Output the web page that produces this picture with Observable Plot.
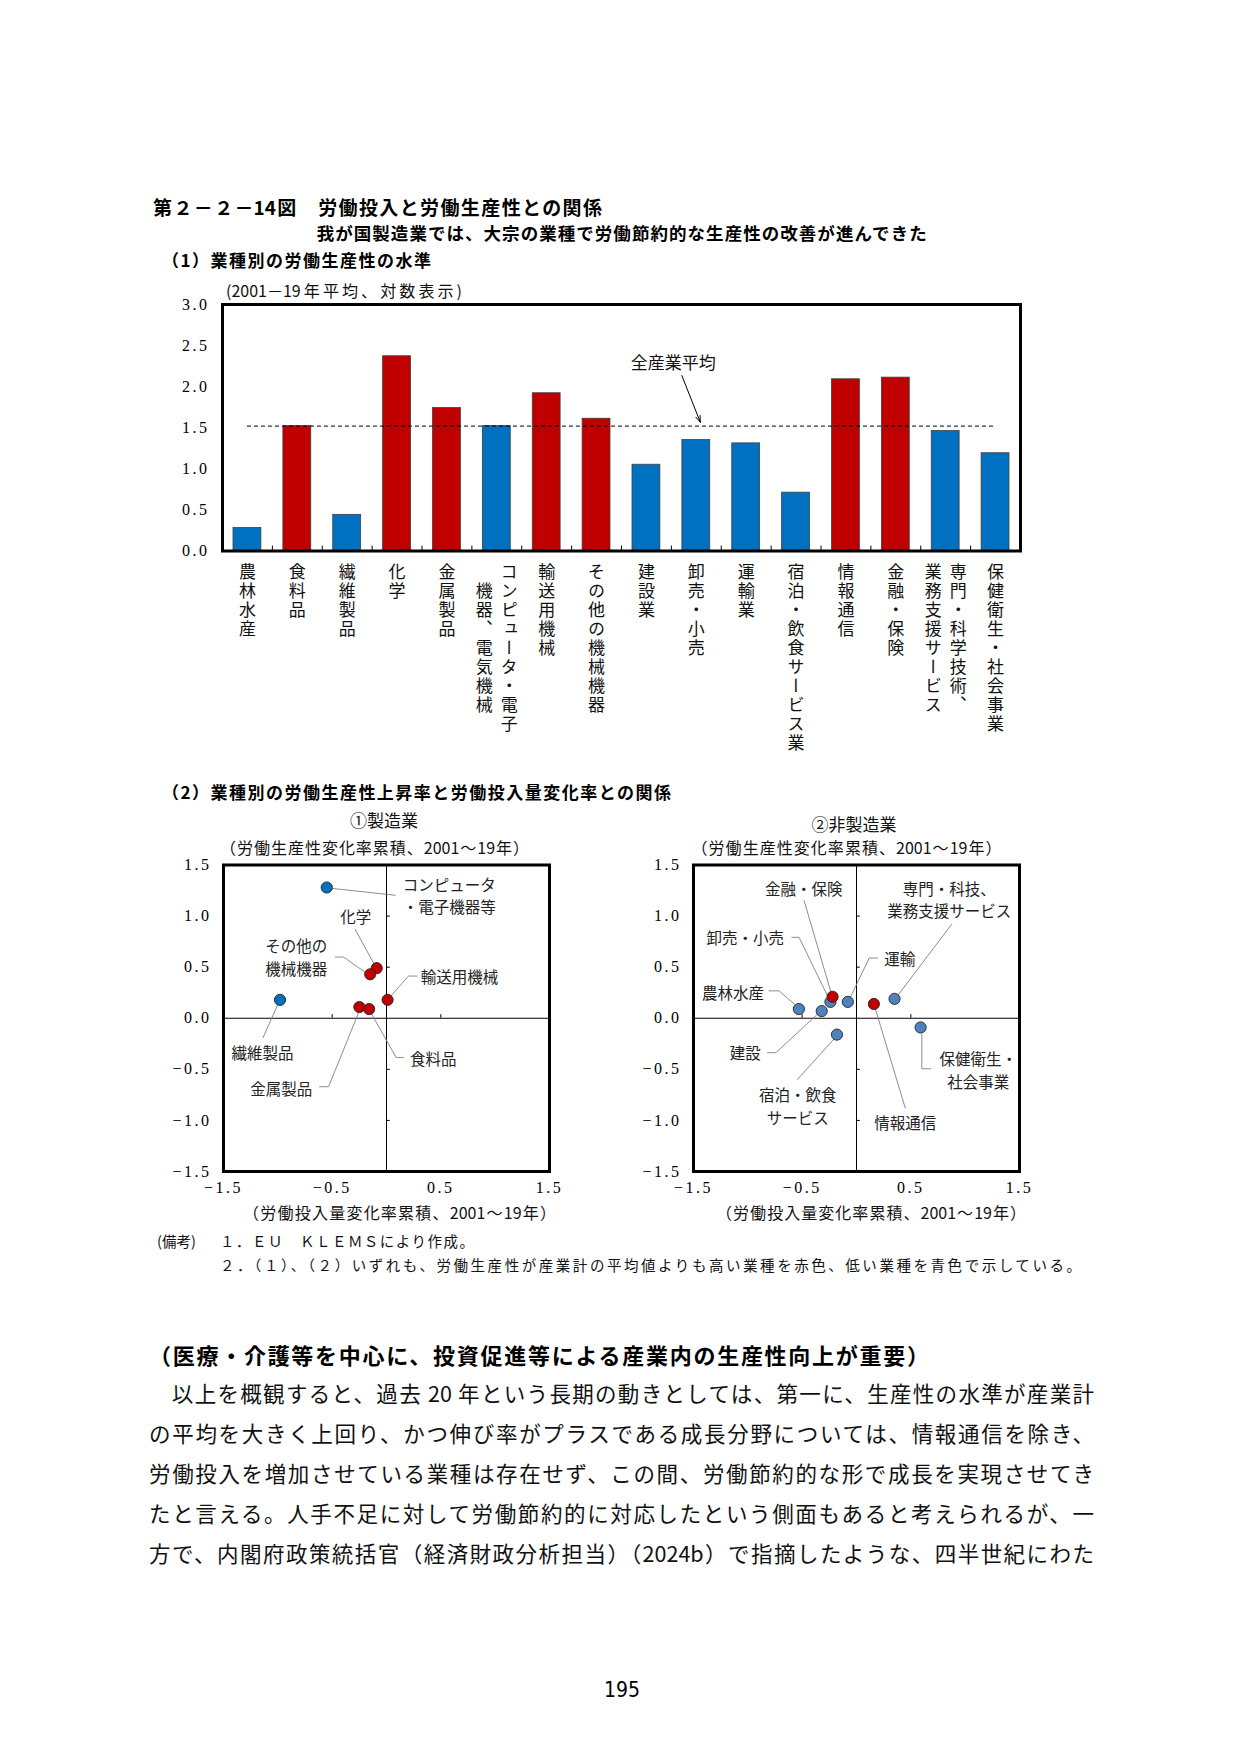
<!DOCTYPE html>
<html><head><meta charset="utf-8">
<script src="https://cdn.jsdelivr.net/npm/d3@7"></script>
<script src="https://cdn.jsdelivr.net/npm/@observablehq/plot@0.6"></script>
<style>
html,body{margin:0;padding:0;background:#fff;}
#page{position:relative;width:1241px;height:1755px;background:#fff;overflow:hidden;font-family:"Noto Sans CJK JP",sans-serif;color:#000;}
.t{position:absolute;white-space:nowrap;}
.j{text-align:justify;text-align-last:justify;}
.chart{position:absolute;}
.chart g[aria-label*="tick label"]{letter-spacing:2.5px;}
</style></head><body><div id="page"></div>
<script>
// ---------- data ----------
const industries = ["農林水産","食料品","繊維製品","化学","金属製品","コンピュータ・電子機器、電気機械","輸送用機械","その他の機械機器","建設業","卸売・小売","運輸業","宿泊・飲食サービス業","情報通信","金融・保険","専門・科学技術、業務支援サービス","保健衛生・社会事業"];
const industryLabelColumns = [["農林水産"],["食料品"],["繊維製品"],["化学"],["金属製品"],["コンピュータ・電子","　機器、電気機械"],["輸送用機械"],["その他の機械機器"],["建設業"],["卸売・小売"],["運輸業"],["宿泊・飲食サービス業"],["情報通信"],["金融・保険"],["専門・科学技術、","業務支援サービス"],["保健衛生・社会事業"]];
const productivityLevels = [0.28,1.52,0.44,2.37,1.74,1.52,1.92,1.61,1.05,1.35,1.31,0.71,2.09,2.11,1.46,1.19];
const aboveAverage = [false,true,false,true,true,false,true,true,false,false,false,false,true,true,false,false];
const allIndustryAverage = 1.52;
const barYTicks = [0,0.5,1,1.5,2,2.5,3];

const mfgNames = ["コンピュータ・電子機器等","繊維製品","化学","その他の機械機器","輸送用機械","金属製品","食料品"];
const mfgLaborInput = [-0.55,-0.98,-0.09,-0.15,0.01,-0.25,-0.16];
const mfgProductivity = [1.28,0.18,0.49,0.43,0.18,0.11,0.09];
const mfgHigh = [false,false,true,true,true,true,true];

const nonMfgNames = ["農林水産","建設","卸売・小売","運輸","宿泊・飲食サービス","情報通信","専門・科技、業務支援サービス","保健衛生・社会事業","金融・保険"];
const nonMfgLaborInput = [-0.53,-0.32,-0.24,-0.08,-0.18,0.16,0.35,0.59,-0.22];
const nonMfgProductivity = [0.09,0.07,0.16,0.16,-0.16,0.14,0.19,-0.09,0.21];
const nonMfgHigh = [false,false,false,false,false,true,false,false,true];

const scatterXTicks = [-1.5,-0.5,0.5,1.5];
const scatterYTicks = [-1.5,-1,-0.5,0,0.5,1,1.5];
const zeroAxisYTicks = [-1,-0.5,0.5,1];
const zeroAxisXTicks = [-0.5,0.5];

// annotations (data units)
const avgNote = {text:"全産業平均", x:9.04, y:2.28};
const avgArrow = {x1:9.21, y1:2.135, x2:9.58, y2:1.567};

const mfgLabels = [
  {text:"コンピュータ\n・電子機器等", x:0.15, y:1.21, anchor:"start"},
  {text:"化学", x:-0.282, y:1.0, anchor:"middle"},
  {text:"その他の\n機械機器", x:-0.831, y:0.605, anchor:"middle"},
  {text:"輸送用機械", x:0.315, y:0.413, anchor:"start"},
  {text:"繊維製品", x:-1.141, y:-0.325, anchor:"middle"},
  {text:"金属製品", x:-0.968, y:-0.677, anchor:"middle"},
  {text:"食料品", x:0.217, y:-0.384, anchor:"start"}
];
const mfgLeaders = [
  {id:"comp", path:[[-0.548,1.276],[0.08,1.204]]},
  {id:"chem", path:[[-0.288,0.869],[-0.104,0.511]]},
  {id:"other", path:[[-0.471,0.599],[-0.395,0.599],[-0.187,0.443]]},
  {id:"trans", path:[[0.279,0.413],[0.202,0.413],[0.028,0.202]]},
  {id:"tex", path:[[-0.992,0.153],[-1.136,-0.189]]},
  {id:"metal", path:[[-0.615,-0.670],[-0.533,-0.670],[-0.248,0.078]]},
  {id:"food", path:[[0.156,-0.384],[0.089,-0.384],[-0.15,0.065]]}
];
const nonMfgLabels = [
  {text:"金融・保険", x:-0.485, y:1.276, anchor:"middle"},
  {text:"専門・科技、\n業務支援サービス", x:0.853, y:1.168, anchor:"middle"},
  {text:"卸売・小売", x:-0.666, y:0.792, anchor:"end"},
  {text:"運輸", x:0.255, y:0.589, anchor:"start"},
  {text:"農林水産", x:-0.850, y:0.262, anchor:"end"},
  {text:"建設", x:-0.880, y:-0.330, anchor:"end"},
  {text:"宿泊・飲食\nサービス", x:-0.540, y:-0.852, anchor:"middle"},
  {text:"保健衛生・\n社会事業", x:1.12, y:-0.50, anchor:"middle"},
  {text:"情報通信", x:0.448, y:-1.014, anchor:"middle"}
];
const nonMfgLeaders = [
  {id:"fin", path:[[-0.482,1.151],[-0.221,0.203]]},
  {id:"prof", path:[[0.877,0.922],[0.377,0.219]]},
  {id:"whole", path:[[-0.595,0.792],[-0.528,0.792],[-0.252,0.186]]},
  {id:"trans", path:[[0.193,0.589],[0.117,0.589],[-0.061,0.196]]},
  {id:"agri", path:[[-0.804,0.268],[-0.712,0.268],[-0.564,0.131]]},
  {id:"cons", path:[[-0.819,-0.337],[-0.742,-0.337],[-0.359,0.039]]},
  {id:"hotel", path:[[-0.543,-0.599],[-0.196,-0.190]]},
  {id:"health", path:[[0.601,-0.157],[0.601,-0.494],[0.684,-0.494]]},
  {id:"info", path:[[0.172,0.098],[0.448,-0.877]]}
];

// texts
const titleText = "第２－２－14図　労働投入と労働生産性との関係";
const subtitleText = "我が国製造業では、大宗の業種で労働節約的な生産性の改善が進んできた";
const part1Text = "（1）業種別の労働生産性の水準";
const part1Unit = "(2001－19年平均、対数表示)";
const part2Text = "（2）業種別の労働生産性上昇率と労働投入量変化率との関係";
const panel1Title = "①製造業";
const panel2Title = "②非製造業";
const yTitle = "（労働生産性変化率累積、2001～19年）";
const xTitle = "（労働投入量変化率累積、2001～19年）";
const noteHead = "(備考)";
const note1 = "１．ＥＵ　ＫＬＥＭＳにより作成。";
const note2 = "２．（１）、（２）いずれも、労働生産性が産業計の平均値よりも高い業種を赤色、低い業種を青色で示している。";
const bodyHeading = "（医療・介護等を中心に、投資促進等による産業内の生産性向上が重要）";
const bodyLines = [
  "　以上を概観すると、過去 20 年という長期の動きとしては、第一に、生産性の水準が産業計",
  "の平均を大きく上回り、かつ伸び率がプラスである成長分野については、情報通信を除き、",
  "労働投入を増加させている業種は存在せず、この間、労働節約的な形で成長を実現させてき",
  "たと言える。人手不足に対して労働節約的に対応したという側面もあると考えられるが、一",
  "方で、内閣府政策統括官（経済財政分析担当）（2024b）で指摘したような、四半世紀にわた"
];
const pageNumber = "195";

// ---------- styles ----------
const RED = "#C00000", BLUE = "#0070C0", BLUE2 = "#4F81BD";
const JP = '"Noto Sans CJK JP", sans-serif';
const SERIF = '"Liberation Serif", "DejaVu Serif", serif';
const fmt = d => (d < 0 ? "−" : "") + Math.abs(d).toFixed(1);

const page = document.getElementById("page");
function addText(txt, o) {
  const d = document.createElement("div");
  d.className = "t" + (o.width ? " j" : "");
  d.textContent = txt;
  const lh = o.lh || Math.round(o.size * 1.4);
  d.style.fontSize = o.size + "px";
  d.style.lineHeight = lh + "px";
  d.style.top = (o.y - lh / 2) + "px";
  if (o.weight) d.style.fontWeight = o.weight;
  if (o.family) d.style.fontFamily = o.family;
  if (o.spacing) d.style.letterSpacing = o.spacing + "px";
  if (o.color) d.style.color = o.color;
  if (o.width) { d.style.left = o.x + "px"; d.style.width = o.width + "px"; }
  else if (o.anchor === "middle") { d.style.left = o.x + "px"; d.style.transform = "translateX(-50%)"; }
  else d.style.left = o.x + "px";
  page.appendChild(d);
  return d;
}
function addChart(svg, left, top) {
  const w = document.createElement("div");
  w.className = "chart";
  w.style.left = left + "px"; w.style.top = top + "px";
  w.appendChild(svg);
  page.appendChild(w);
}

// ---------- headings ----------
addText(titleText, {x:153, y:206, size:19, weight:"bold", width:449});
addText(subtitleText, {x:316.7, y:232, size:17.5, weight:"bold", width:610});
addText(part1Text, {x:162, y:260, size:17, weight:"bold", width:269});
addText(part1Unit, {x:226, y:290, size:16, width:236, color:"#111"});

// ---------- bar chart ----------
const barRows = industries.map((name, i) => ({i, name, value: productivityLevels[i], high: aboveAverage[i]}));
const labelRows = [];
industryLabelColumns.forEach((cols, i) => {
  if (cols.length === 1) labelRows.push({i, text: cols[0], col: "single"});
  else { labelRows.push({i, text: cols[0], col: "right"}); labelRows.push({i, text: cols[1], col: "left"}); }
});
const labelOpts = {x: d => d.i + 0.5, text: "text", frameAnchor: "bottom", textAnchor: "start", lineAnchor: "top",
  dy: 12, fontSize: 17, fontFamily: JP, fill: "#111"};

const barSvg = Plot.plot({
  width: 880, height: 490, marginLeft: 72, marginRight: 10, marginTop: 24, marginBottom: 219.5,
  style: {fontFamily: SERIF, fontSize: "16px", background: "transparent", overflow: "visible", color: "#000"},
  x: {type: "linear", domain: [0, industries.length], axis: null},
  y: {domain: [0, 3], ticks: barYTicks, tickFormat: fmt, tickSize: 0, tickPadding: 13, label: null},
  color: {type: "identity"},
  marks: [
    Plot.rect(barRows, {x1: "i", x2: d => d.i + 1, y1: 0, y2: "value", insetLeft: 11, insetRight: 11,
      fill: d => d.high ? RED : BLUE, stroke: "#404040", strokeWidth: 0.8}),
    Plot.ruleY([allIndustryAverage], {x1: 0.5, x2: industries.length - 0.5, stroke: "#000", strokeWidth: 1, strokeDasharray: "4,3"}),
    Plot.ruleX(d3.range(1, industries.length), {x: d => d, y1: 0, y2: 0.06, stroke: "#000", strokeWidth: 1}),
    Plot.text([avgNote], {x: "x", y: "y", text: "text", fontFamily: JP, fontSize: 17, fill: "#111"}),
    Plot.arrow([avgArrow], {x1: "x1", y1: "y1", x2: "x2", y2: "y2", stroke: "#000", strokeWidth: 1, headLength: 10, headAngle: 40}),
    Plot.frame({stroke: "#000", strokeWidth: 3}),
    Plot.text(labelRows.filter(d => d.col === "single"), labelOpts),
    Plot.text(labelRows.filter(d => d.col === "right"), {...labelOpts, dx: 12.5}),
    Plot.text(labelRows.filter(d => d.col === "left"), {...labelOpts, dx: -12.5})
  ]
});
// set the category labels in vertical (tategaki) writing mode
const labelSet = new Set(labelRows.map(d => d.text));
d3.select(barSvg).selectAll("text")
  .filter(function() { return labelSet.has(this.textContent); })
  .attr("y", 0)
  .attr("writing-mode", "tb")
  .style("writing-mode", "vertical-rl")
  .style("letter-spacing", "2px");
addChart(barSvg, 150, 280);

// ---------- scatter charts ----------
function scatter(names, xs, ys, high, blue, labels, leaders) {
  const pts = names.map((n, i) => ({name: n, x: xs[i], y: ys[i], high: high[i]}));
  const leaderRows = leaders.flatMap(l => l.path.map(([x, y]) => ({id: l.id, x, y})));
  const lab = a => Plot.text(labels.filter(d => d.anchor === a), {x: "x", y: "y", text: "text", textAnchor: a,
    fontFamily: JP, fontSize: 15.5, lineHeight: 1.44, fill: "#222"});
  return Plot.plot({
    width: 420, height: 350, marginLeft: 73, marginRight: 21, marginTop: 9.5, marginBottom: 34,
    style: {fontFamily: SERIF, fontSize: "16px", background: "transparent", overflow: "visible", color: "#000"},
    x: {domain: [-1.5, 1.5], ticks: scatterXTicks, tickFormat: fmt, tickSize: 0, tickPadding: 10, label: null},
    y: {domain: [-1.5, 1.5], ticks: scatterYTicks, tickFormat: fmt, tickSize: 0, tickPadding: 12, label: null},
    color: {type: "identity"},
    marks: [
      Plot.ruleX([0], {stroke: "#000", strokeWidth: 1}),
      Plot.ruleY([0], {stroke: "#000", strokeWidth: 1}),
      Plot.ruleY(zeroAxisYTicks, {y: d => d, x1: 0, x2: 0.035, stroke: "#000", strokeWidth: 1}),
      Plot.ruleX(zeroAxisXTicks, {x: d => d, y1: 0, y2: 0.035, stroke: "#000", strokeWidth: 1}),
      Plot.line(leaderRows, {x: "x", y: "y", z: "id", stroke: "#808080", strokeWidth: 0.9}),
      Plot.dot(pts, {x: "x", y: "y", r: 5.6, fill: d => d.high ? RED : blue, stroke: "#262626", strokeWidth: 0.9}),
      lab("start"), lab("middle"), lab("end"),
      Plot.frame({stroke: "#000", strokeWidth: 3})
    ]
  });
}

addText(part2Text, {x:162, y:792, size:17, weight:"bold", width:509});
addText(panel1Title, {x:384, y:820, size:17, anchor:"middle", color:"#111"});
addText(panel2Title, {x:854, y:823.5, size:17, anchor:"middle", color:"#111"});
addText(yTitle, {x:220, y:847, size:16, width:309, color:"#111"});
addText(yTitle, {x:691.5, y:847, size:16, width:310, color:"#111"});

addChart(scatter(mfgNames, mfgLaborInput, mfgProductivity, mfgHigh, BLUE, mfgLabels, mfgLeaders), 149.7, 855);
addChart(scatter(nonMfgNames, nonMfgLaborInput, nonMfgProductivity, nonMfgHigh, BLUE2, nonMfgLabels, nonMfgLeaders), 620.3, 855);

addText(xTitle, {x:243, y:1212, size:16, width:313, color:"#111"});
addText(xTitle, {x:716, y:1212, size:16, width:310, color:"#111"});

// ---------- notes ----------
addText(noteHead, {x:157, y:1241, size:14.5, color:"#111"});
addText(note1, {x:220, y:1241, size:14.5, width:254, color:"#111"});
addText(note2, {x:220, y:1264.5, size:14.5, width:861, color:"#111"});

// ---------- body text ----------
addText(bodyHeading, {x:149, y:1354, size:22, weight:"bold", width:780});
bodyLines.forEach((line, k) => addText(line, {x:149, y:1393 + k * 40, size:21.5, width:945, color:"#111"}));
addText(pageNumber, {x:622, y:1690, size:21, anchor:"middle", family:'"Liberation Sans Narrow","DejaVu Sans Condensed","DejaVu Sans",sans-serif'});
</script></body></html>
